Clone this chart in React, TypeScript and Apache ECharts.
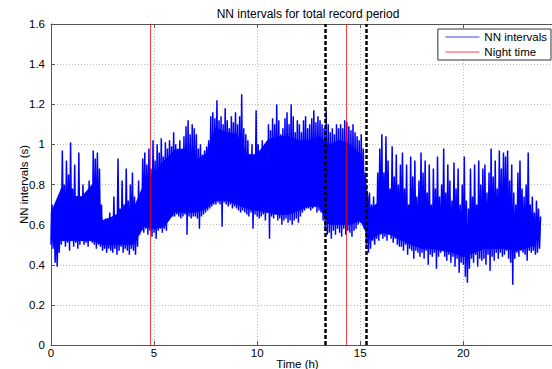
import React, { useEffect, useRef } from "react";
import * as echarts from "echarts";

// Sample spacing of the NN trace (hours) — each sample gives a low and a high reading
const SAMPLE_STEP_H = 0.1;

// Lower envelope of NN intervals (s), one value per 0.1 h from 0 h to 23.7 h
const nnLow: number[] = [
  0.50, 0.48, 0.41, 0.39, 0.46, 0.50, 0.52, 0.49, 0.51, 0.47,
  0.52, 0.49, 0.51, 0.48, 0.50, 0.52, 0.50, 0.51, 0.49, 0.52,
  0.51, 0.50, 0.48, 0.50, 0.49, 0.47, 0.48, 0.46, 0.48, 0.47,
  0.46, 0.48, 0.45, 0.47, 0.49, 0.46, 0.48, 0.47, 0.45, 0.48,
  0.47, 0.45, 0.49, 0.55, 0.57, 0.56, 0.58, 0.55, 0.57, 0.54,
  0.56, 0.53, 0.57, 0.58, 0.56, 0.58, 0.57, 0.62, 0.64, 0.64,
  0.64, 0.65, 0.64, 0.63, 0.64, 0.65, 0.55, 0.64, 0.63, 0.64,
  0.64, 0.63, 0.58, 0.64, 0.65, 0.66, 0.67, 0.68, 0.69, 0.70,
  0.70, 0.71, 0.70, 0.59, 0.71, 0.70, 0.69, 0.70, 0.68, 0.69,
  0.68, 0.67, 0.66, 0.67, 0.66, 0.65, 0.64, 0.66, 0.58, 0.65,
  0.64, 0.63, 0.64, 0.65, 0.62, 0.66, 0.53, 0.64, 0.63, 0.65,
  0.62, 0.63, 0.60, 0.62, 0.63, 0.61, 0.62, 0.60, 0.62, 0.63,
  0.61, 0.64, 0.66, 0.67, 0.68, 0.68, 0.67, 0.68, 0.69, 0.66,
  0.67, 0.66, 0.62, 0.57, 0.55, 0.56, 0.53, 0.57, 0.55, 0.58,
  0.56, 0.54, 0.58, 0.55, 0.57, 0.56, 0.54, 0.57, 0.58, 0.60,
  0.61, 0.62, 0.58, 0.50, 0.46, 0.48, 0.52, 0.50, 0.53, 0.52,
  0.55, 0.53, 0.54, 0.52, 0.55, 0.53, 0.51, 0.53, 0.50, 0.49,
  0.49, 0.47, 0.50, 0.45, 0.48, 0.47, 0.43, 0.47, 0.46, 0.44,
  0.46, 0.43, 0.47, 0.40, 0.45, 0.44, 0.46, 0.38, 0.44, 0.46,
  0.47, 0.44, 0.42, 0.45, 0.41, 0.44, 0.39, 0.43, 0.36, 0.41,
  0.40, 0.34, 0.31, 0.38, 0.43, 0.41, 0.45, 0.39, 0.43, 0.42,
  0.43, 0.40, 0.45, 0.37, 0.44, 0.42, 0.46, 0.43, 0.46, 0.44,
  0.45, 0.47, 0.43, 0.41, 0.30, 0.43, 0.46, 0.44, 0.47, 0.46,
  0.45, 0.42, 0.47, 0.46, 0.47, 0.45, 0.46, 0.48,
];

// Upper envelope / spikes of NN intervals (s), same sampling
const nnHigh: number[] = [
  0.70, 0.66, 0.60, 0.62, 0.72, 0.97, 0.80, 0.92, 0.85, 1.01,
  0.78, 0.90, 0.74, 0.96, 0.72, 0.80, 0.70, 0.76, 0.82, 0.74,
  0.97, 0.93, 0.96, 0.88, 0.70, 0.62, 0.63, 0.60, 0.66, 0.62,
  0.74, 0.65, 0.93, 0.68, 0.82, 0.70, 0.88, 0.72, 0.80, 0.86,
  0.74, 0.70, 0.82, 0.76, 0.93, 0.96, 0.90, 0.98, 0.88, 1.02,
  0.92, 1.00, 0.96, 1.03, 0.94, 1.01, 0.98, 1.02, 0.99, 1.06,
  1.00, 0.98, 1.02, 0.97, 1.04, 1.09, 1.12, 1.05, 1.10, 1.08,
  1.05, 0.98, 1.00, 0.95, 0.97, 0.99, 1.02, 1.14, 1.16, 1.13,
  1.22, 1.12, 1.14, 1.10, 1.18, 1.12, 1.08, 1.14, 1.11, 1.16,
  1.10, 1.14, 1.25, 1.08, 1.05, 1.02, 0.95, 1.00, 0.93, 1.17,
  1.00, 0.97, 1.02, 0.99, 0.94, 1.10, 1.07, 1.13, 1.10, 1.20,
  1.12, 1.05, 1.08, 1.13, 1.16, 1.10, 1.20, 1.14, 1.06, 1.12,
  1.10, 1.06, 1.12, 1.14, 1.08, 1.10, 1.13, 1.17, 1.11, 1.14,
  1.12, 1.10, 1.08, 1.17, 1.10, 1.06, 1.08, 1.05, 1.10, 1.08,
  1.10, 1.08, 1.12, 1.11, 1.09, 1.07, 1.10, 1.06, 1.04, 1.02,
  1.05, 0.98, 0.86, 0.72, 0.76, 0.70, 0.74, 0.68, 0.86, 0.98,
  1.05, 0.86, 1.04, 0.92, 0.78, 0.99, 0.84, 0.95, 0.80, 0.90,
  0.96, 0.78, 0.90, 0.70, 0.94, 0.84, 0.92, 0.74, 0.82, 0.96,
  0.86, 0.92, 0.76, 0.90, 0.70, 0.88, 0.78, 0.94, 0.74, 0.80,
  0.98, 0.76, 0.90, 0.82, 0.72, 0.91, 0.78, 0.88, 0.70, 0.80,
  0.94, 0.72, 0.68, 0.88, 0.74, 0.90, 0.70, 0.92, 0.80, 0.88,
  0.90, 0.76, 0.86, 0.98, 0.84, 0.92, 0.78, 0.97, 0.88, 0.96,
  0.94, 0.97, 0.82, 0.90, 0.76, 0.70, 0.86, 0.92, 0.78, 0.74,
  0.80, 0.96, 0.70, 0.74, 0.66, 0.72, 0.68, 0.64,
];

// Dense (solid) core of the trace, one value per 0.5 h from 0 h to 23.5 h
const CORE_STEP_H = 0.5;
const coreLow: number[] = [
  0.52, 0.52, 0.52, 0.52, 0.52, 0.50, 0.50, 0.50, 0.50, 0.59,
  0.58, 0.59, 0.66, 0.66, 0.66, 0.68, 0.72, 0.72, 0.70, 0.68,
  0.67, 0.66, 0.65, 0.65, 0.67, 0.69, 0.69, 0.60, 0.60, 0.60,
  0.62, 0.52, 0.56, 0.55, 0.52, 0.50, 0.48, 0.48, 0.47, 0.46,
  0.44, 0.46, 0.48, 0.48, 0.48, 0.47, 0.48, 0.50,
];
const coreTop: number[] = [
  0.66, 0.78, 0.74, 0.74, 0.80, 0.62, 0.64, 0.66, 0.68, 0.80,
  0.86, 0.92, 0.97, 0.98, 0.92, 0.95, 1.08, 1.06, 1.05, 0.95,
  0.95, 1.02, 1.04, 1.04, 1.02, 1.02, 1.04, 1.00, 1.02, 1.00,
  0.95, 0.68, 0.72, 0.70, 0.66, 0.64, 0.62, 0.60, 0.62, 0.60,
  0.56, 0.60, 0.64, 0.64, 0.62, 0.60, 0.60, 0.62,
];

// Night time markers (h)
const nightTimes: number[] = [4.83, 14.33];
// Black dashed segment bounds (h)
const segmentBounds: number[] = [13.3, 15.3];

// Axis settings
const X_MIN = 0;
const X_MAX = 24.45;
const X_INTERVAL = 5;
const Y_MIN = 0;
const Y_MAX = 1.6;
const Y_INTERVAL = 0.2;

const TITLE = "NN intervals for total record period";
const X_NAME = "Time (h)";
const Y_NAME = "NN intervals (s)";

const FONT = "'Liberation Sans', Arial, Helvetica, sans-serif";
const BLUE = "#0000ff";

export default function App() {
  const ref = useRef<HTMLDivElement>(null);

  useEffect(() => {
    if (!ref.current) return;
    const chart = echarts.init(ref.current, undefined, { renderer: "svg" });

    const nnData: [number, number][] = [];
    nnLow.forEach((lo, i) => {
      const t = i * SAMPLE_STEP_H;
      nnData.push([t, lo]);
      nnData.push([t + SAMPLE_STEP_H / 2, nnHigh[i]]);
    });
    // band segments: [t0, low0, top0, t1, low1, top1]
    const coreSegments: number[][] = [];
    for (let i = 0; i + 1 < coreLow.length; i++) {
      coreSegments.push([
        i * CORE_STEP_H, coreLow[i], coreTop[i],
        (i + 1) * CORE_STEP_H, coreLow[i + 1], coreTop[i + 1],
      ]);
    }

    const gridLine = { show: true, lineStyle: { color: "#bdbdbd", type: [1, 2] as any, width: 1 } };
    const axisLine = { show: true, lineStyle: { color: "#555", width: 1 } };
    const axisTick = { show: true, inside: true, length: 4, lineStyle: { color: "#555" } };

    chart.setOption({
      animation: false,
      backgroundColor: "#fff",
      textStyle: { fontFamily: FONT },
      title: {
        text: TITLE,
        left: 303,
        textAlign: "center",
        top: 3,
        textStyle: { fontSize: 12, fontWeight: "normal", color: "#000", fontFamily: FONT },
      },
      legend: {
        data: ["NN intervals", "Night time"],
        orient: "vertical",
        right: 1,
        top: 29,
        padding: [2, 4, 2, 7],
        itemGap: 3,
        itemWidth: 34,
        itemHeight: 10,
        itemTextGap: 5,
        backgroundColor: "#fff",
        borderColor: "#333",
        borderWidth: 1,
        itemStyle: { opacity: 0 },
        lineStyle: { width: 1, opacity: 0.75 },
        textStyle: { fontSize: 11.5, color: "#000", fontFamily: FONT },
      },
      grid: {
        left: 51,
        right: -3,
        top: 24,
        bottom: 24,
        containLabel: false,
        outerBoundsMode: "none",
      } as any,
      xAxis: [
        {
          type: "value",
          min: X_MIN,
          max: X_MAX,
          interval: X_INTERVAL,
          name: X_NAME,
          nameLocation: "middle",
          nameGap: 13,
          nameMoveOverlap: false,
          nameTextStyle: { fontSize: 11.5, color: "#000", padding: [0, 11, 0, 0], fontFamily: FONT },
          axisLine,
          axisTick,
          axisLabel: { fontSize: 11.5, color: "#000", margin: 2, showMaxLabel: false, fontFamily: FONT },
          splitLine: gridLine,
        },
        {
          type: "value",
          position: "top",
          min: X_MIN,
          max: X_MAX,
          interval: X_INTERVAL,
          axisLine,
          axisTick,
          axisLabel: { show: false },
          splitLine: { show: false },
        },
      ],
      yAxis: {
        type: "value",
        min: Y_MIN,
        max: Y_MAX,
        interval: Y_INTERVAL,
        name: Y_NAME,
        nameLocation: "middle",
        nameGap: 21,
        nameMoveOverlap: false,
        nameTextStyle: { fontSize: 11.5, color: "#000", fontFamily: FONT },
        axisLine,
        axisTick,
        axisLabel: { fontSize: 11.5, color: "#000", margin: 6, fontFamily: FONT },
        splitLine: gridLine,
      } as any,
      series: [
        {
          name: "core",
          type: "custom",
          data: coreSegments,
          silent: true,
          z: 1,
          encode: { x: [0, 3], y: [1, 2, 4, 5] },
          renderItem: (params: any, api: any) => {
            const p0l = api.coord([api.value(0), api.value(1)]);
            const p0t = api.coord([api.value(0), api.value(2)]);
            const p1l = api.coord([api.value(3), api.value(4)]);
            const p1t = api.coord([api.value(3), api.value(5)]);
            return {
              type: "polygon",
              shape: { points: [p0l, p0t, p1t, p1l] },
              style: { fill: BLUE, stroke: BLUE, lineWidth: 0.6 },
            };
          },
        },
        {
          name: "NN intervals",
          type: "line",
          data: nnData,
          symbol: "none",
          showSymbol: false,
          color: BLUE,
          lineStyle: { color: BLUE, width: 1.5 },
          z: 2,
        },
        {
          name: "Night time",
          type: "line",
          data: [],
          symbol: "none",
          color: "#ff0000",
          lineStyle: { color: "#ff0000", width: 1 },
          markLine: {
            silent: true,
            symbol: ["none", "none"],
            label: { show: false },
            lineStyle: { color: "#ff0000", width: 1, type: "solid", opacity: 0.75 },
            data: nightTimes.map((x) => ({ xAxis: x })),
          },
          z: 3,
        },
        {
          name: "Segment",
          type: "line",
          data: [],
          symbol: "none",
          color: "#000",
          markLine: {
            silent: true,
            symbol: ["none", "none"],
            label: { show: false },
            lineStyle: { color: "#000", width: 2.5, type: [4, 2] as any },
            data: segmentBounds.map((x) => ({ xAxis: x })),
          },
          z: 4,
        },
      ],
    });

    return () => chart.dispose();
  }, []);

  return (
    <div
      ref={ref}
      style={{ position: "fixed", left: 0, top: 0, width: 552, height: 369 }}
    />
  );
}
